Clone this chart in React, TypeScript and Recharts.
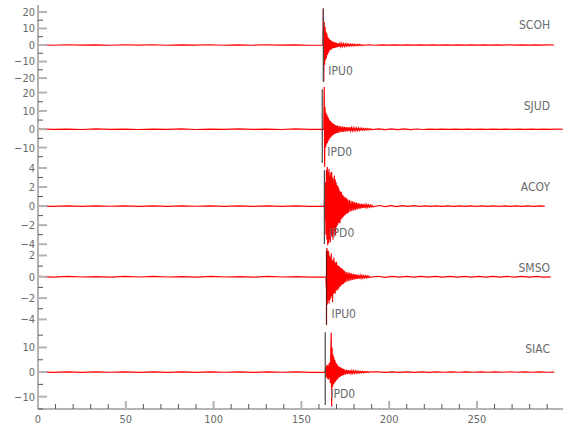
import { LineChart, Line, XAxis, YAxis, ReferenceLine } from "recharts"

// ─── Data ────────────────────────────────────────────────────────────────────

const STATIONS = ["SCOH", "SJUD", "ACOY", "SMSO", "SIAC"]
const PICK_LABELS = ["IPU0", "IPD0", "IPD0", "IPU0", "IPD0"]
const PICK_TIMES = [162.5, 161.9, 163.1, 164.3, 163.6]
const TRACE_START = [0.5, 0.5, 0.5, 0.5, 0.5]
const TRACE_END = [294, 299, 288.6, 292, 294]
const BURST_START = [162.25, 162.75, 163.0, 164.0, 163.5]

const Y_DOMAINS = [[-24.8, 24.2], [-20.6, 23.6], [-4.4, 4.1], [-4.9, 2.7], [-15, 17.5]]
const Y_TICKS = [
    [-20, -15, -10, -5, 0, 5, 10, 15, 20],
    [-15, -10, -5, 0, 5, 10, 15, 20],
    [-4, -3, -2, -1, 0, 1, 2, 3, 4],
    [-4, -3, -2, -1, 0, 1, 2],
    [-15, -10, -5, 0, 5, 10, 15],
]
const Y_LABEL_STEP = [10, 10, 2, 2, 10]
const X_DOMAIN = [0, 299]
const X_TICKS = [0, 10, 20, 30, 40, 50, 60, 70, 80, 90, 100, 110, 120, 130, 140, 150, 160, 170, 180, 190, 200, 210, 220, 230, 240, 250, 260, 270, 280, 290]
const X_LABEL_STEP = 50

// pre-event noise, evenly spaced from trace start to burst start
const SCOH_NOISE = [0.1, -0.15, 0.15, -0.1, 0.1, -0.15, 0.15, -0.1, 0.15, -0.15, 0.1, -0.1, 0.15, -0.15, 0.1, -0.15, 0.15, -0.1, 0.1, -0.15]
const SJUD_NOISE = [0.15, -0.1, 0.1, -0.15, 0.15, -0.1, 0.1, -0.15, 0.1, -0.1, 0.15, -0.15, 0.1, -0.1, 0.15, -0.1, 0.1, -0.15, 0.15, -0.1]
const ACOY_NOISE = [0.03, -0.03, 0.02, -0.03, 0.03, -0.02, 0.03, -0.03, 0.02, -0.03, 0.03, -0.02, 0.03, -0.03, 0.02, -0.03, 0.03, -0.03, 0.02, -0.03]
const SMSO_NOISE = [0.03, -0.03, 0.03, -0.02, 0.02, -0.03, 0.03, -0.02, 0.03, -0.02, 0.02, -0.03, 0.03, -0.02, 0.02, -0.03, 0.03, -0.02, 0.02, -0.03]
const SIAC_NOISE = [0.1, -0.1, 0.08, -0.1, 0.1, -0.08, 0.1, -0.1, 0.08, -0.1, 0.1, -0.1, 0.08, -0.08, 0.1, -0.1, 0.1, -0.08, 0.08, -0.1]

// main arrival, 0.25 s samples from burst start
const SCOH_BURST = [0, 22, -22, 14, -12, 11, -9, 8, -8, 7, -6, 5, -5, 4, -4, 3.5, -3, 3, -2.8, 2.5, -2.5, 2.2, -2, 2, -2, 1.8, -1.8, 1.6, -1.6, 1.5, -1.5]
const SJUD_BURST = [0, 23, -20.5, 12, -10, 9, -8.5, 8, -7.5, 7, -6.5, 6, -5.5, 5, -5, 4.5, -4.2, 4, -3.8, 3.5, -3.2, 3, -3, 2.8, -2.6, 2.5, -2.4, 2.2, -2.2, 2, -2]
const ACOY_BURST = [0, 0.8, -1.5, 2.5, -3, 3.8, -3.5, 4.1, -4.1, 3.6, -3.9, 3.9, -3.5, 3.2, -3.8, 3.5, -3, 3.6, -3.2, 3, -3.5, 2.8, -3, 3.2, -2.6, 2.8, -3.1, 2.5, -2.2, 2.2, -2, 2.1, -1.8, 1.9, -1.7, 1.6, -1.8, 1.5, -1.4, 1.5, -1.3, 1.2, -1.2, 1.1, -1.1, 1, -1, 0.9, -0.9, 0.9, -0.8, 0.8, -0.8]
const SMSO_BURST = [0, -1, 2.7, -2.6, 2.5, -2.2, 2.4, -2.5, 2, -2.2, 1.8, -2, 2.2, -1.8, 1.6, -2.4, 1.5, -1.6, 1.8, -1.5, 1.4, -1.6, 1.3, -1.2, 1.4, -1.3, 1.1, -1.2, 1, -1.1, 1, -0.9, 0.9, -0.9, 0.8, -0.8, 0.8, -0.7, 0.7, -0.7, 0.6, -0.6]
const SIAC_BURST = [0, 1.5, -2, 2.5, -2.2, 3, -2.8, 2.5, -3, 3.5, -2.5, 4, -4.5, 8, 16, -14, 10, -6, 7, -5, 6, -4.5, 5, -4, 4, -3.5, 3.5, -3, 3, -2.8, 2.5, -2.2, 2.2, -2, 2, -1.8, 1.8, -1.6, 1.5, -1.4, 1.4, -1.3, 1.2]

// coda, 0.5 s samples after the burst
const SCOH_CODA = [1.3, -1.3, 1.2, -1.1, 1.0, -1.0, 0.9, -0.9, 0.8, -0.8, 0.7, -0.7, 0.65, -0.6, 0.6, -0.55, 0.5, -0.5, 0.45, -0.45, 0.4, -0.4, 0.35, -0.35, 0.3, -0.3, 0.3, -0.25, 0.25, -0.2]
const SJUD_CODA = [1.9, -1.9, 1.8, -1.7, 1.6, -1.5, 1.5, -1.4, 1.3, -1.3, 1.2, -1.1, 1.1, -1.0, 1.0, -0.9, 0.9, -0.85, 0.8, -0.8, 0.75, -0.7, 0.7, -0.65, 0.6, -0.6, 0.55, -0.5, 0.5, -0.45, 0.45, -0.4, 0.4, -0.35, 0.35, -0.3, 0.3, -0.3, 0.25, -0.25]
const ACOY_CODA = [0.7, -0.7, 0.65, -0.6, 0.55, -0.55, 0.5, -0.45, 0.42, -0.4, 0.37, -0.35, 0.32, -0.3, 0.27, -0.25, 0.23, -0.22, 0.2, -0.18, 0.17, -0.16, 0.14, -0.13, 0.12, -0.11, 0.1, -0.09, 0.08, -0.07]
const SMSO_CODA = [0.55, -0.5, 0.47, -0.45, 0.42, -0.4, 0.37, -0.35, 0.32, -0.3, 0.28, -0.27, 0.25, -0.23, 0.21, -0.2, 0.18, -0.17, 0.15, -0.14, 0.13, -0.12, 0.11, -0.1, 0.09, -0.09, 0.08, -0.07, 0.06, -0.06]
const SIAC_CODA = [-1.1, 1.0, -0.95, 0.9, -0.85, 0.8, -0.75, 0.7, -0.65, 0.6, -0.55, 0.5, -0.5, 0.45, -0.42, 0.4, -0.37, 0.35, -0.32, 0.3, -0.28, 0.26, -0.24, 0.22, -0.2, 0.2, -0.18, 0.16, -0.15, 0.14]

// late tail, evenly spaced to trace end
const SCOH_TAIL = [0.15, -0.15, 0.12, -0.12, 0.12, -0.1, 0.1, -0.1, 0.1, -0.1, 0.1, -0.1, 0.1, -0.1, 0.1, -0.1, 0.1, -0.1, 0.1, -0.1, 0.1, -0.1, 0.1, -0.1, 0.1, -0.1, 0.1, -0.1, 0.1, 0]
const SJUD_TAIL = [0.2, -0.2, 0.18, -0.17, 0.15, -0.15, 0.14, -0.13, 0.12, -0.12, 0.12, -0.1, 0.1, -0.1, 0.1, -0.1, 0.1, -0.1, 0.1, -0.1, 0.1, -0.1, 0.1, -0.1, 0.1, -0.1, 0.1, -0.1, 0.1, 0]
const ACOY_TAIL = [0.06, -0.05, 0.05, -0.05, 0.04, -0.04, 0.04, -0.04, 0.03, -0.03, 0.03, -0.03, 0.03, -0.03, 0.03, -0.03, 0.03, -0.03, 0.03, -0.03, 0.03, -0.03, 0.03, -0.03, 0.03, -0.03, 0.03, -0.03, 0.03, 0]
const SMSO_TAIL = [0.05, -0.05, 0.04, -0.04, 0.04, -0.04, 0.03, -0.03, 0.03, -0.03, 0.03, -0.03, 0.03, -0.03, 0.03, -0.03, 0.03, -0.03, 0.03, -0.03, 0.03, -0.03, 0.03, -0.03, 0]
const SIAC_TAIL = [0.12, -0.12, 0.11, -0.1, 0.1, -0.1, 0.09, -0.09, 0.08, -0.08, 0.08, -0.08, 0.08, -0.08, 0.08, -0.08, 0.08, -0.08, 0.08, -0.08, 0.08, -0.08, 0.08, -0.08, 0]

const NOISE = [SCOH_NOISE, SJUD_NOISE, ACOY_NOISE, SMSO_NOISE, SIAC_NOISE]
const BURSTS = [SCOH_BURST, SJUD_BURST, ACOY_BURST, SMSO_BURST, SIAC_BURST]
const CODAS = [SCOH_CODA, SJUD_CODA, ACOY_CODA, SMSO_CODA, SIAC_CODA]
const TAILS = [SCOH_TAIL, SJUD_TAIL, ACOY_TAIL, SMSO_TAIL, SIAC_TAIL]

const BURST_DT = 0.25
const CODA_DT = 0.5

function buildTrace(i: number) {
    const rows: { t: number; v: number }[] = []
    const start = TRACE_START[i]
    const t0 = BURST_START[i]
    const preStep = (t0 - start) / NOISE[i].length
    NOISE[i].forEach((v, k) => rows.push({ t: start + k * preStep, v }))
    BURSTS[i].forEach((v, k) => rows.push({ t: t0 + k * BURST_DT, v }))
    const c0 = t0 + BURSTS[i].length * BURST_DT
    CODAS[i].forEach((v, k) => rows.push({ t: c0 + k * CODA_DT, v }))
    const k0 = c0 + CODAS[i].length * CODA_DT
    const tailStep = (TRACE_END[i] - k0) / TAILS[i].length
    TAILS[i].forEach((v, k) => rows.push({ t: k0 + (k + 1) * tailStep, v }))
    return rows
}

// ─── Styles ──────────────────────────────────────────────────────────────────

const PANEL_TOPS = [5, 86, 167, 248, 329]
const PANEL_HEIGHTS = [81, 81, 81, 81, 80]
const PAD = 8
const X_AXIS_H = 31
const FONT = "'DejaVu Sans Condensed', 'Liberation Sans Narrow', 'DejaVu Sans', sans-serif"
const TEXT_COLOR = "#6a6a6a"
const FRAME = "#b4b4b4"
const TOP_FRAME = "#8a8a8a"
const MINOR_TICK = "#555"
const TRACE = "#ff0000"
const PICK_COLORS = ["#4a4a4a", "#4a4a4a", "#4a4a4a", "#6a1010", "#4a4a4a"]

const isStep = (v: number, step: number) => Math.abs(v / step - Math.round(v / step)) < 1e-6
const fmt = (v: number) => (v < 0 ? "\u2212" + Math.abs(v) : String(v))

function LeftTick(props: any) {
    const { x, y, payload, step } = props
    const major = isStep(payload.value, step)
    return (
        <g>
            <line x1={x} x2={x + (major ? 9 : 5)} y1={y} y2={y} stroke={major ? FRAME : MINOR_TICK} strokeWidth={major ? 2 : 1} />
            {major && (
                <text x={x - 3} y={y} dy="0.36em" textAnchor="end" fontSize={11} fontFamily={FONT} fill={TEXT_COLOR}>
                    {fmt(payload.value)}
                </text>
            )}
        </g>
    )
}

function RightTick(props: any) {
    const { x, y, payload, step } = props
    const major = isStep(payload.value, step)
    return <line x1={x} x2={x - (major ? 8 : 6)} y1={y} y2={y} stroke={major ? FRAME : MINOR_TICK} strokeWidth={major ? 2 : 1} />
}

function TopTick(props: any) {
    const { x, y, payload } = props
    const major = isStep(payload.value, X_LABEL_STEP)
    return <line x1={x} x2={x} y1={y} y2={y + (major ? 8 : 5)} stroke={major ? FRAME : MINOR_TICK} strokeWidth={major ? 2 : 1} />
}

function BottomTick(props: any) {
    const { x, y, payload } = props
    const major = isStep(payload.value, X_LABEL_STEP)
    return (
        <g>
            <line x1={x} x2={x} y1={y} y2={y - (major ? 8 : 5)} stroke={major ? FRAME : MINOR_TICK} strokeWidth={major ? 2 : 1} />
            {major && (
                <text x={x} y={y + 14} textAnchor="middle" fontSize={11} fontFamily={FONT} fill={TEXT_COLOR}>
                    {payload.value}
                </text>
            )}
        </g>
    )
}

function pickLabel(text: string) {
    return (props: any) => {
        const vb = props.viewBox || {}
        const top = Math.min(vb.y, vb.y + vb.height)
        const h = Math.abs(vb.height)
        return (
            <text x={vb.x + 5} y={top + h * 0.85 + 4} fontSize={12} fontFamily={FONT} fill={TEXT_COLOR}>
                {text}
            </text>
        )
    }
}

// ─── Panel ───────────────────────────────────────────────────────────────────

function Panel({ i }: { i: number }) {
    const last = i === STATIONS.length - 1
    const [lo, hi] = Y_DOMAINS[i]
    const span = hi - lo
    const height = PANEL_HEIGHTS[i] + PAD + (last ? X_AXIS_H : PAD)
    return (
        <div style={{ position: "absolute", left: 0, top: PANEL_TOPS[i] - PAD, width: 580, height }}>
            <LineChart
                width={580}
                height={height}
                data={buildTrace(i)}
                margin={{ top: PAD, right: 17, bottom: last ? 0 : PAD, left: 0 }}
            >
                <XAxis
                    xAxisId="top"
                    orientation="top"
                    dataKey="t"
                    type="number"
                    domain={X_DOMAIN}
                    allowDataOverflow
                    ticks={X_TICKS}
                    height={0}
                    tickSize={0}
                    tickMargin={0}
                    tickLine={false}
                    axisLine={{ stroke: i === 0 ? TOP_FRAME : FRAME, strokeWidth: 2 }}
                    tick={<TopTick />}
                    interval={0}
                />
                {last && (
                    <XAxis
                        xAxisId="bot"
                        orientation="bottom"
                        dataKey="t"
                        type="number"
                        domain={X_DOMAIN}
                        allowDataOverflow
                        ticks={X_TICKS}
                        height={X_AXIS_H}
                        tickSize={0}
                        tickMargin={0}
                        tickLine={false}
                        axisLine={{ stroke: FRAME, strokeWidth: 2 }}
                        tick={<BottomTick />}
                        interval={0}
                    />
                )}
                <YAxis
                    yAxisId="l"
                    orientation="left"
                    type="number"
                    domain={[lo, hi]}
                    allowDataOverflow
                    ticks={Y_TICKS[i]}
                    width={38}
                    tickSize={0}
                    tickMargin={0}
                    tickLine={false}
                    axisLine={{ stroke: FRAME, strokeWidth: 2 }}
                    tick={<LeftTick step={Y_LABEL_STEP[i]} />}
                    interval={0}
                />
                <YAxis
                    yAxisId="r"
                    orientation="right"
                    type="number"
                    domain={[lo, hi]}
                    allowDataOverflow
                    ticks={Y_TICKS[i]}
                    width={0}
                    tickSize={0}
                    tickMargin={0}
                    tickLine={false}
                    axisLine={{ stroke: FRAME, strokeWidth: 2 }}
                    tick={<RightTick step={Y_LABEL_STEP[i]} />}
                    interval={0}
                />
                <Line
                    xAxisId="top"
                    yAxisId="l"
                    type="linear"
                    dataKey="v"
                    stroke={TRACE}
                    strokeWidth={1.2}
                    dot={false}
                    isAnimationActive={false}
                />
                <ReferenceLine
                    xAxisId="top"
                    yAxisId="l"
                    segment={[
                        { x: PICK_TIMES[i], y: hi - span * 0.04 },
                        { x: PICK_TIMES[i], y: lo + span * 0.05 },
                    ]}
                    stroke={PICK_COLORS[i]}
                    strokeWidth={1.2}
                    label={pickLabel(PICK_LABELS[i])}
                />
            </LineChart>
            <div
                style={{
                    position: "absolute",
                    right: 30,
                    top: PAD + 13,
                    fontFamily: FONT,
                    fontSize: 12,
                    lineHeight: "14px",
                    color: TEXT_COLOR,
                }}
            >
                {STATIONS[i]}
            </div>
        </div>
    )
}

export default function App() {
    return (
        <div style={{ position: "absolute", left: 0, top: 0, width: 580, height: 440, background: "#fff" }}>
            {STATIONS.map((s, i) => (
                <Panel key={s} i={i} />
            ))}
        </div>
    )
}
